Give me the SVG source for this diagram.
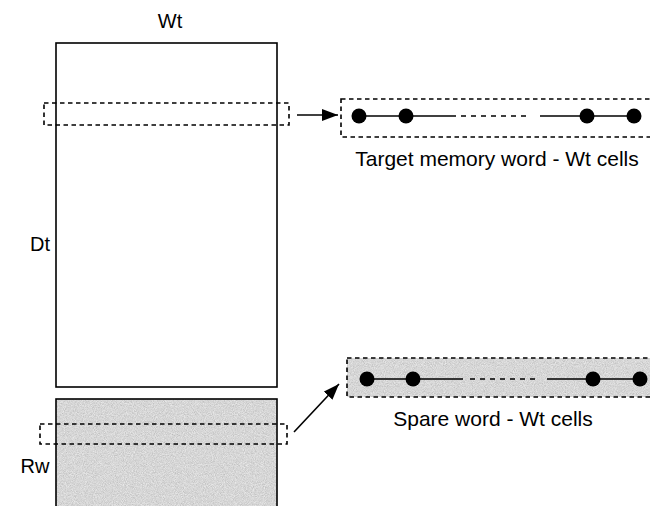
<svg xmlns="http://www.w3.org/2000/svg" width="650" height="506" viewBox="0 0 650 506">
  <style>
    .lbl { font-family: "Liberation Sans", Arial, sans-serif; font-size: 20px; fill: #000; }
    .cap { font-family: "Liberation Sans", Arial, sans-serif; font-size: 21px; fill: #000; }
    .block { fill: none; stroke: #000; stroke-width: 1.6; }
    .sel { fill: none; stroke: #000; stroke-width: 1.6; stroke-dasharray: 4.5 3.5; }
    .wire { stroke: #000; stroke-width: 1.6; fill: none; }
    .wire-gap { stroke: #000; stroke-width: 1.6; fill: none; stroke-dasharray: 5 5; }
    .cell { fill: #000; }
    .conn { stroke: #000; stroke-width: 1.6; fill: none; }
    .shade { fill: #c8c8c8; filter: url(#grain); }
  </style>
  <defs>
    <marker id="arrow" viewBox="0 0 16 12" refX="16" refY="6" markerWidth="16" markerHeight="12" markerUnits="userSpaceOnUse" orient="auto">
      <path d="M0,0 L16,6 L0,12 Z" fill="#000"/>
    </marker>
    <!-- speckled grey fill for spare storage -->
    <filter id="grain" x="0" y="0" width="100%" height="100%">
      <feTurbulence type="fractalNoise" baseFrequency="1.1" numOctaves="2" seed="4" result="noise"/>
      <feColorMatrix in="noise" type="saturate" values="0" result="mono"/>
      <feComponentTransfer in="mono" result="tone">
        <feFuncR type="linear" slope="0.55" intercept="0.4"/>
        <feFuncG type="linear" slope="0.55" intercept="0.4"/>
        <feFuncB type="linear" slope="0.55" intercept="0.4"/>
        <feFuncA type="linear" slope="0" intercept="1"/>
      </feComponentTransfer>
      <feComposite in="tone" in2="SourceGraphic" operator="in"/>
    </filter>
  </defs>

  <rect width="650" height="506" fill="#fff"/>

  <!-- memory array: data rows -->
  <g id="data-array">
    <rect class="block" x="56" y="43" width="221" height="344"/>
    <text class="lbl" x="170" y="28" text-anchor="middle">Wt</text>
    <text class="lbl" x="40" y="251" text-anchor="middle">Dt</text>
  </g>

  <!-- memory array: spare rows -->
  <g id="spare-array">
    <rect class="shade" x="56" y="399" width="221" height="115"/>
    <rect class="block" x="56" y="399" width="221" height="115"/>
    <text class="lbl" x="35" y="473" text-anchor="middle">Rw</text>
  </g>

  <!-- selected word in the data rows -->
  <g id="target-row">
    <rect class="sel" x="44" y="103" width="245" height="22"/>
  </g>

  <!-- selected word in the spare rows -->
  <g id="spare-row">
    <rect class="sel" x="40" y="424" width="247" height="20"/>
  </g>

  <!-- expanded target word -->
  <g id="target-word">
    <rect class="sel" x="341" y="99" width="320" height="38"/>
    <line class="wire" x1="359" y1="116" x2="456" y2="116"/>
    <line class="wire-gap" x1="461" y1="116" x2="530" y2="116"/>
    <line class="wire" x1="540" y1="116" x2="634" y2="116"/>
    <circle class="cell" cx="359" cy="116" r="7.5"/>
    <circle class="cell" cx="406" cy="116" r="7.5"/>
    <circle class="cell" cx="587" cy="116" r="7.5"/>
    <circle class="cell" cx="634" cy="116" r="7.5"/>
    <text class="cap" x="497" y="166" text-anchor="middle">Target memory word - Wt cells</text>
  </g>

  <!-- expanded spare word -->
  <g id="spare-word">
    <rect class="shade" x="347" y="358" width="320" height="39"/>
    <rect class="sel" x="347" y="358" width="320" height="39"/>
    <line class="wire" x1="367" y1="379" x2="463" y2="379"/>
    <line class="wire-gap" x1="470" y1="379" x2="540" y2="379"/>
    <line class="wire" x1="547" y1="379" x2="640" y2="379"/>
    <circle class="cell" cx="367" cy="379" r="7.5"/>
    <circle class="cell" cx="413" cy="379" r="7.5"/>
    <circle class="cell" cx="593" cy="379" r="7.5"/>
    <circle class="cell" cx="640" cy="379" r="7.5"/>
    <text class="cap" x="493" y="426" text-anchor="middle">Spare word - Wt cells</text>
  </g>

  <!-- connectors -->
  <g id="connectors">
    <line class="conn" x1="297" y1="115" x2="338" y2="115" marker-end="url(#arrow)"/>
    <line class="conn" x1="294" y1="432" x2="339" y2="384" marker-end="url(#arrow)"/>
  </g>
</svg>
